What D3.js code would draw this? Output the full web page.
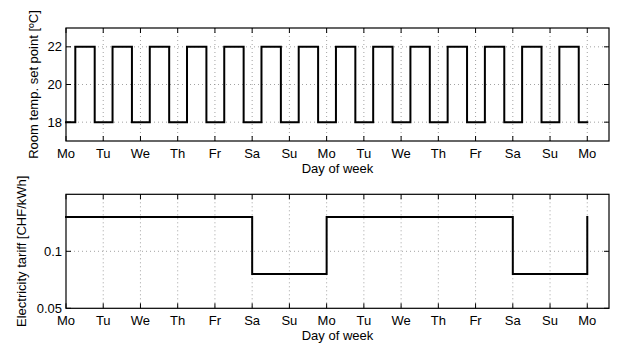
<!DOCTYPE html>
<html>
<head>
<meta charset="utf-8">
<script src="https://cdn.jsdelivr.net/npm/d3@7"></script>
<style>
  html, body { margin: 0; padding: 0; background: #fff; }
  svg { display: block; }
  text { font-family: "Liberation Sans", Arial, Helvetica, sans-serif; fill: #000; }
</style>
</head>
<body>
<svg id="chart" width="625" height="346"></svg>
<script>
// ---- data ----
const dayTickHours = [0, 24, 48, 72, 96, 120, 144, 168, 192, 216, 240, 264, 288, 312, 336];
const dayTickLabels = ["Mo", "Tu", "We", "Th", "Fr", "Sa", "Su", "Mo", "Tu", "We", "Th", "Fr", "Sa", "Su", "Mo"];

// room temperature set point (step after each time, hours)
const tempHours = [0, 6, 18.5, 30, 42.5, 54, 66.5, 78, 90.5, 102, 114.5, 126, 138.5, 150, 162.5,
                   174, 186.5, 198, 210.5, 222, 234.5, 246, 258.5, 270, 282.5, 294, 306.5, 318, 330.5, 336];
const tempValues = [18, 22, 18, 22, 18, 22, 18, 22, 18, 22, 18, 22, 18, 22, 18,
                    22, 18, 22, 18, 22, 18, 22, 18, 22, 18, 22, 18, 22, 18, 18];
const tempTicks = [18, 20, 22];

// electricity tariff (step after each time, hours)
const tariffHours = [0, 120, 168, 288, 336];
const tariffValues = [0.13, 0.08, 0.13, 0.08, 0.13];
const tariffTicks = [0.05, 0.1];
const tariffTickLabels = ["0.05", "0.1"];

// ---- layout ----
const svg = d3.select("#chart");
const left = 66, right = 609;
const panels = [
  { top: 28, bottom: 141, domain: [17, 23], ticks: tempTicks, tickFmt: d => String(d),
    hours: tempHours, values: tempValues, ylabel: "Room temp. set point [ºC]", ylabelX: 38 },
  { top: 194.3, bottom: 308.3, domain: [0.05, 0.15], ticks: tariffTicks,
    tickFmt: d => tariffTickLabels[tariffTicks.indexOf(d)],
    hours: tariffHours, values: tariffValues, ylabel: "Electricity tariff [CHF/kWh]", ylabelX: 25.5 }
];

const x = d3.scaleLinear().domain([0, 350]).range([left, right]);
const FS = 13;
const tickLen = 5;

panels.forEach(p => {
  const y = d3.scaleLinear().domain(p.domain).range([p.bottom, p.top]);
  const g = svg.append("g");

  // grid
  g.append("g").selectAll("line.vg").data(dayTickHours.filter(h => h > 0)).join("line")
    .attr("x1", d => x(d)).attr("x2", d => x(d))
    .attr("y1", p.top).attr("y2", p.bottom)
    .attr("stroke", "#8a8a8a").attr("stroke-width", 0.8).attr("stroke-dasharray", "1,3");
  g.append("g").selectAll("line.hg").data(p.ticks.filter(t => t > p.domain[0] && t < p.domain[1])).join("line")
    .attr("x1", left).attr("x2", right)
    .attr("y1", d => y(d)).attr("y2", d => y(d))
    .attr("stroke", "#8a8a8a").attr("stroke-width", 0.8).attr("stroke-dasharray", "1,3");

  // inward ticks (bottom/top)
  const ticksG = g.append("g").attr("stroke", "#000").attr("stroke-width", 1);
  dayTickHours.forEach(h => {
    ticksG.append("line").attr("x1", x(h)).attr("x2", x(h)).attr("y1", p.bottom).attr("y2", p.bottom - tickLen);
    ticksG.append("line").attr("x1", x(h)).attr("x2", x(h)).attr("y1", p.top).attr("y2", p.top + tickLen);
  });
  p.ticks.forEach(t => {
    ticksG.append("line").attr("x1", left).attr("x2", left + tickLen).attr("y1", y(t)).attr("y2", y(t));
    ticksG.append("line").attr("x1", right).attr("x2", right - tickLen).attr("y1", y(t)).attr("y2", y(t));
  });

  // data line
  const line = d3.line().x((d, i) => x(p.hours[i])).y(d => y(d)).curve(d3.curveStepAfter);
  g.append("path").datum(p.values).attr("d", line)
    .attr("fill", "none").attr("stroke", "#000").attr("stroke-width", 2)
    .attr("stroke-linejoin", "miter").attr("stroke-linecap", "square");

  // box
  g.append("rect").attr("x", left).attr("y", p.top)
    .attr("width", right - left).attr("height", p.bottom - p.top)
    .attr("fill", "none").attr("stroke", "#000").attr("stroke-width", 1.2);

  // x tick labels
  g.append("g").selectAll("text").data(dayTickHours).join("text")
    .attr("x", d => x(d)).attr("y", p.bottom + 17)
    .attr("text-anchor", "middle").attr("font-size", FS)
    .text((d, i) => dayTickLabels[i]);

  // y tick labels
  g.append("g").selectAll("text").data(p.ticks).join("text")
    .attr("x", left - 4).attr("y", d => y(d)).attr("dy", "0.35em")
    .attr("text-anchor", "end").attr("font-size", FS)
    .text(p.tickFmt);

  // x label
  g.append("text").attr("x", (left + right) / 2).attr("y", p.bottom + 32)
    .attr("text-anchor", "middle").attr("font-size", FS).text("Day of week");

  // y label
  g.append("text")
    .attr("transform", `translate(${p.ylabelX},${(p.top + p.bottom) / 2}) rotate(-90)`)
    .attr("text-anchor", "middle").attr("font-size", FS).text(p.ylabel);
});
</script>
</body>
</html>
